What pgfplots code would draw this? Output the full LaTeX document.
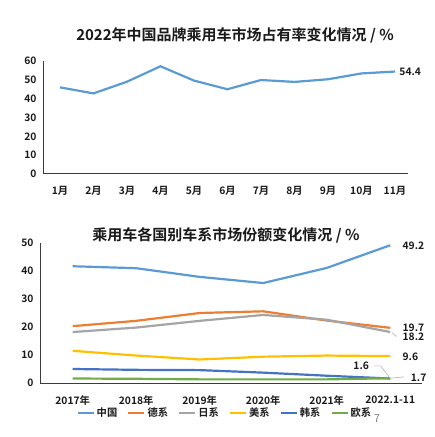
\documentclass[border=0pt]{standalone}
\usepackage{pgfplots}
\pgfplotsset{compat=1.18}
\usepackage{fontspec}
\setmainfont{Noto Sans CJK SC}[BoldFont={Noto Sans CJK SC Bold}]
\definecolor{cCN}{HTML}{5B9BD5}
\definecolor{cDE}{HTML}{ED7D31}
\definecolor{cJP}{HTML}{A5A5A5}
\definecolor{cUS}{HTML}{FFC000}
\definecolor{cKR}{HTML}{4472C4}
\definecolor{cEU}{HTML}{70AD47}
\definecolor{txt}{HTML}{1A1A1A}
\pgfplotsset{
  base/.style={
    scale only axis, clip=false,
    axis x line*=bottom, axis y line*=left,
    axis line style={-, line width=1pt, color=txt!85},
    major tick length=0pt,
    ymin=0,
    tick label style={font=\fontsize{10.3bp}{12bp}\selectfont\bfseries, text=txt},
    /pgf/number format/assume math mode=true,
    every axis plot/.append style={line width=2.2bp, no markers},
  }
}
\begin{document}
\begin{tikzpicture}
\path (0,0) rectangle (435bp,437bp);
% ---------- top chart ----------
\begin{axis}[base,
  at={(43bp,263bp)}, anchor=south west,
  width=365bp, height=113bp,
  xmin=0.493, xmax=11.39, ymax=60,
  ytick={0,10,20,30,40,50,60},
  xtick={1,...,11},
  xticklabels={1月,2月,3月,4月,5月,6月,7月,8月,9月,10月,11月},
  xticklabel style={yshift=-9bp},
  yticklabel style={xshift=-3bp},
]
\addplot[cCN] coordinates {(1,46.0) (2,42.8) (3,49.0) (4,57.2) (5,49.6) (6,45.0) (7,49.9) (8,48.9) (9,50.3) (10,53.4) (11,54.4)};
\node[anchor=west, font=\fontsize{10.3bp}{12bp}\selectfont\bfseries, text=txt] at (axis cs:11.03,54.3) {54.4};
\end{axis}
\node[font=\fontsize{15bp}{17bp}\selectfont\bfseries, text=txt] at (235bp,402bp) {2022年中国品牌乘用车市场占有率变化情况 / \%};
% ---------- bottom chart ----------
\begin{axis}[base,
  at={(40bp,54bp)}, anchor=south west,
  width=382bp, height=140bp,
  xmin=-0.515, xmax=5.5, ymax=50,
  ytick={0,10,20,30,40,50},
  xtick={0,...,5},
  xticklabels={2017年,2018年,2019年,2020年,2021年,2022.1-11},
  xticklabel style={yshift=-9bp},
  yticklabel style={xshift=-3bp},
  legend columns=6,
  legend style={at={(0.484,-0.214)}, anchor=center, draw=none, fill=none,
    font=\fontsize{10.3bp}{12bp}\selectfont\bfseries, text=txt,
    /tikz/every even column/.append style={column sep=8bp},
    inner sep=0pt},
  legend image code/.code={\draw[#1, line width=2.2bp] (0bp,0bp) -- (16bp,0bp);},
]
\addplot[cCN] coordinates {(0,41.7) (1,41.0) (2,37.9) (3,35.7) (4,41.1) (5,49.2)};
\addplot[cDE] coordinates {(0,20.3) (1,22.2) (2,25.0) (3,25.6) (4,22.3) (5,19.7)};
\addplot[cJP] coordinates {(0,18.2) (1,19.8) (2,22.2) (3,24.3) (4,22.6) (5,18.2)};
\addplot[cUS] coordinates {(0,11.5) (1,9.8) (2,8.4) (3,9.4) (4,9.8) (5,9.6)};
\addplot[cKR] coordinates {(0,5.0) (1,4.7) (2,4.6) (3,3.7) (4,2.6) (5,1.6)};
\addplot[cEU] coordinates {(0,1.6) (1,1.5) (2,1.3) (3,1.3) (4,1.3) (5,1.7)};
\legend{中国,德系,日系,美系,韩系,欧系}
\begin{scope}[every node/.style={font=\fontsize{10.3bp}{12bp}\selectfont\bfseries, text=txt}]
\node[anchor=west] at (axis cs:5.14,48.9) {49.2};
\node[anchor=west] at (axis cs:5.14,19.6) {19.7};
\node[anchor=west] at (axis cs:5.14,16.4) {18.2};
\node[anchor=west] at (axis cs:5.14,9.4) {9.6};
\node[anchor=west] at (axis cs:5.27,1.9) {1.7};
\node[anchor=east] at (axis cs:4.72,6.1) {1.6};
\end{scope}
\draw[gray!60, line width=0.6pt] (axis cs:4.74,6.1) -- (axis cs:4.85,6.1) -- (axis cs:5,1.6);
\draw[gray!60, line width=0.6pt] (axis cs:5,1.7) -- (axis cs:5.22,2.2);
\draw[gray!60, line width=0.6pt] (axis cs:5.03,17.9) -- (axis cs:5.1,16.6);
\end{axis}
\node[font=\fontsize{15bp}{17bp}\selectfont\bfseries, text=txt] at (226bp,202bp) {乘用车各国别车系市场份额变化情况 / \%};
\node[font=\fontsize{11bp}{13bp}\selectfont, text=gray] at (377bp,18bp) {7};
\end{tikzpicture}
\end{document}
